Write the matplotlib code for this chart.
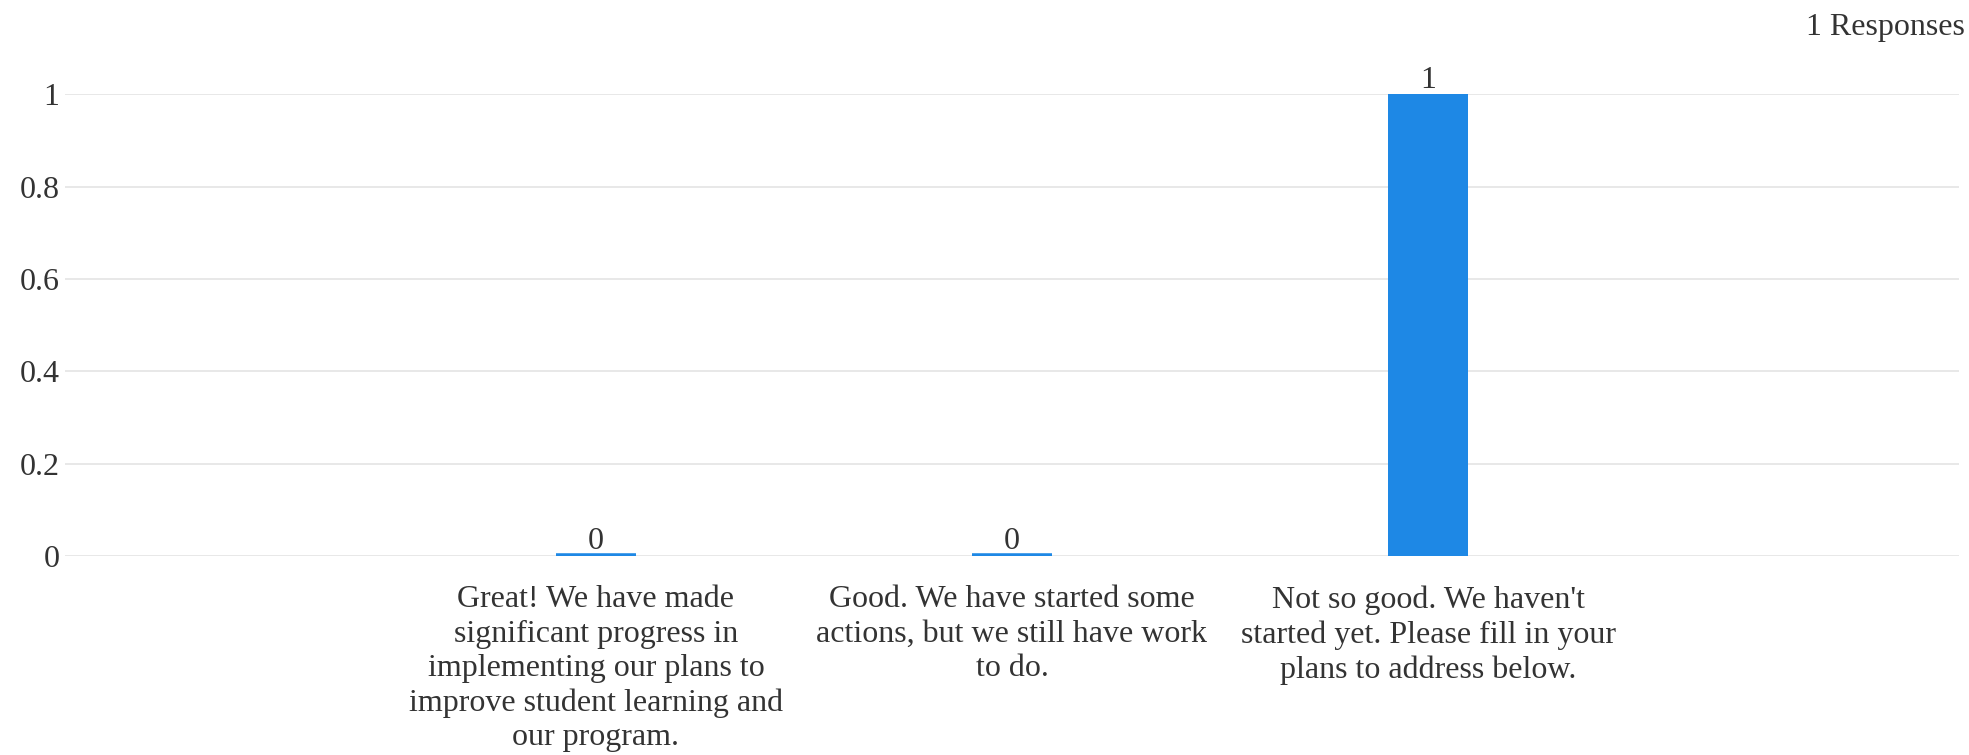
import matplotlib.pyplot as plt

plt.rcParams['font.family'] = ['Liberation Serif', 'DejaVu Serif']

answers = [
    "Great! We have made\nsignificant progress in\nimplementing our plans to\nimprove student learning and\nour program.",
    "Good. We have started some\nactions, but we still have work\nto do.",
    "Not so good. We haven't\nstarted yet. Please fill in your\nplans to address below.",
]
counts = [0, 0, 1]
y_ticks = [0, 0.2, 0.4, 0.6, 0.8, 1]
y_tick_labels = ['0', '0.2', '0.4', '0.6', '0.8', '1']
total_label = '1 Responses'

bar_color = '#1e88e5'
text_color = '#333333'
grid_color = '#e6e6e6'

fig = plt.figure(figsize=(19.69, 7.55), dpi=100)
ax = fig.add_axes([0.0330, 0.2636, 0.9619, 0.6113])

x = list(range(len(answers)))
# empty answers get a thin stub drawn by the edge line
widths = [4.0 if v == 0 else 0 for v in counts]
ax.bar(x, counts, width=0.192, color=bar_color, edgecolor=bar_color,
       linewidth=widths, zorder=3)

for xi, v in zip(x, counts):
    ax.annotate(str(v), (xi, v), xytext=(0, 5), textcoords='offset points',
                ha='center', va='baseline', fontsize=23, color=text_color,
                annotation_clip=False)

ax.set_xlim(-1.276, 3.276)
ax.set_ylim(0, 1)
ax.set_xticks(x)
ax.set_xticklabels(answers, fontsize=23, color=text_color, linespacing=1.245)
ax.set_yticks(y_ticks)
ax.set_yticklabels(y_tick_labels, fontsize=23, color=text_color)
ax.tick_params(axis='x', length=0, pad=21)
ax.tick_params(axis='y', length=0, pad=4)

ax.grid(axis='y', color=grid_color, linewidth=1.3, zorder=0)
for s in ax.spines.values():
    s.set_visible(False)

fig.text(0.998, 0.963, total_label, ha='right', va='center', fontsize=23,
         color=text_color)

fig.savefig('out.png', dpi=100, facecolor='white')
